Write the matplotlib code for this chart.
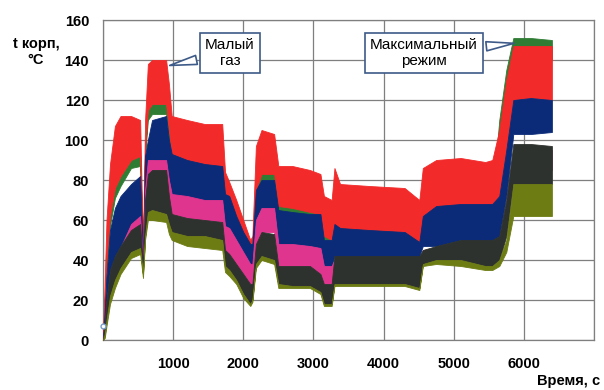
import matplotlib
matplotlib.use("Agg")
import matplotlib.pyplot as plt

plt.rcParams['font.family'] = ['Liberation Sans', 'DejaVu Sans']

# time nodes, s
t = [0, 25, 50, 100, 170, 250, 400, 530, 570, 600, 640, 700, 900, 940, 980,
     1200, 1450, 1700, 1740, 1800, 1900, 2000, 2100, 2130, 2180, 2260, 2440,
     2500, 2700, 2950, 3100, 3150, 3260, 3300, 3380, 3800, 4300, 4510, 4560,
     4750, 5100, 5450, 5550, 5650, 5750, 5850, 6100, 6400]

# band envelopes (upper / lower) of each sensor, deg C
red_hi = [0, 30, 60, 88, 107, 112, 112, 110, 45, 110, 138, 140, 140, 128, 112,
          110, 108, 108, 84, 79, 70, 60, 50, 52, 97, 105, 103,
          87, 87, 85, 83, 72, 70, 86, 78, 77, 76, 70, 86,
          90, 91, 89, 90, 105, 130, 147, 147, 147]
red_lo = [0, 20, 40, 62, 76, 82, 90, 92, 42, 95, 115, 118, 118, 105, 93,
          90, 88, 87, 73, 72, 62, 54, 48, 48, 75, 83, 83,
          67, 66, 64, 63, 52, 50, 58, 56, 55, 54, 49, 62,
          67, 68, 68, 68, 72, 95, 120, 121, 120]

green_hi = [0, 20, 40, 62, 76, 82, 90, 92, 42, 95, 115, 118, 118, 105, 94,
            91, 89, 88, 74, 73, 63, 55, 49, 49, 76, 84, 84,
            68, 67, 65, 64, 53, 51, 59, 57, 56, 55, 50, 63,
            68, 69, 69, 70, 110, 135, 151, 151, 150]
green_lo = [0, 18, 36, 57, 71, 77, 86, 87, 40, 92, 110, 113, 113, 100, 90,
            88, 86, 85, 71, 70, 60, 52, 46, 46, 72, 79, 79,
            63, 63, 62, 61, 50, 48, 56, 54, 53, 52, 47, 60,
            65, 66, 66, 66, 95, 120, 140, 140, 140]

blue_hi = [0, 15, 32, 55, 66, 72, 78, 82, 40, 92, 100, 110, 112, 100, 93,
           90, 88, 87, 73, 72, 62, 54, 48, 48, 75, 80, 80,
           65, 64, 63, 63, 50, 50, 58, 56, 55, 54, 49, 62,
           67, 68, 68, 68, 72, 95, 120, 121, 120]
blue_lo = [0, 8, 20, 35, 42, 47, 58, 62, 36, 70, 90, 90, 88, 80, 73,
           71, 70, 70, 57, 56, 50, 44, 38, 38, 60, 66, 66,
           48, 48, 47, 46, 37, 37, 42, 42, 42, 42, 42, 47,
           47, 50, 50, 50, 52, 72, 103, 103, 104]

magenta_hi = [0, 7, 18, 33, 40, 46, 58, 62, 37, 75, 90, 90, 90, 80, 73,
              72, 70, 70, 57, 56, 50, 44, 38, 38, 60, 66, 66,
              48, 48, 47, 46, 37, 37, 40, 40, 40, 40, 40, 45,
              46, 48, 48, 48, 50, 68, 95, 95, 95]
magenta_lo = [0, 4, 12, 27, 35, 42, 52, 55, 34, 65, 80, 82, 80, 70, 63,
              61, 60, 59, 45, 43, 38, 33, 28, 28, 48, 54, 54,
              37, 37, 37, 33, 28, 28, 32, 32, 32, 32, 32, 42,
              42, 43, 43, 43, 44, 56, 85, 85, 85]

black_hi = [0, 8, 20, 35, 42, 47, 55, 58, 37, 70, 83, 85, 85, 72, 63,
            61, 60, 59, 45, 43, 38, 33, 28, 28, 48, 54, 53,
            37, 37, 37, 33, 28, 28, 42, 42, 42, 42, 42, 45,
            47, 50, 50, 50, 52, 70, 98, 98, 97]
black_lo = [0, 2, 10, 22, 30, 36, 44, 46, 33, 52, 64, 65, 63, 58, 54,
            52, 52, 50, 37, 35, 30, 23, 18, 20, 38, 42, 40,
            28, 27, 27, 24, 18, 18, 28, 28, 28, 28, 26, 38,
            40, 40, 37, 37, 40, 52, 78, 78, 78]

olive_hi = [0, 3, 10, 22, 30, 36, 44, 46, 33, 52, 64, 65, 63, 58, 54,
            52, 52, 50, 37, 35, 30, 23, 18, 20, 38, 42, 40,
            28, 27, 27, 24, 18, 18, 28, 28, 28, 28, 26, 38,
            40, 40, 37, 37, 40, 50, 78, 78, 78]
olive_lo = [0, 1, 7, 18, 26, 33, 41, 43, 31, 50, 60, 60, 59, 53, 50,
            47, 46, 45, 34, 32, 28, 21, 17, 19, 36, 40, 38,
            26, 26, 26, 23, 17, 17, 27, 27, 27, 27, 25, 37,
            38, 37, 35, 35, 37, 44, 62, 62, 62]

start_t = [0]
start_v = [7]

x_ticks = [0, 1000, 2000, 3000, 4000, 5000, 6000, 7000]
x_labels = ["", "1000", "2000", "3000", "4000", "5000", "6000", ""]
y_ticks = [0, 20, 40, 60, 80, 100, 120, 140, 160]

fig = plt.figure(figsize=(6.04, 3.90), dpi=100)
ax = fig.add_axes([0.1705, 0.1282, 0.8129, 0.8205])

bands = [
    (green_lo, green_hi, "#2f7d34"),
    (red_lo, red_hi, "#f22a2a"),
    (blue_lo, blue_hi, "#0b2b78"),
    (magenta_lo, magenta_hi, "#e0358f"),
    (black_lo, black_hi, "#2e322e"),
    (olive_lo, olive_hi, "#6e7c14"),
]
for lo, hi, c in bands:
    ax.fill_between(t, lo, hi, color=c, lw=0.6, edgecolor=c, zorder=3)

ax.plot(start_t, start_v, 'o', ms=3.5, mfc='white', mec='#7a9cc8', zorder=4,
        clip_on=False)

ax.set_xlim(0, 7000)
ax.set_ylim(0, 160)
ax.set_xticks(x_ticks)
ax.set_xticklabels(x_labels)
ax.set_yticks(y_ticks)
ax.grid(True, color='#7f7f7f', lw=0.9)
ax.set_axisbelow(True)
for s in ax.spines.values():
    s.set_color('#7f7f7f')
    s.set_linewidth(0.9)
ax.tick_params(length=0, labelsize=10.5, pad=10)
ax.tick_params(axis='x', pad=12)
for lab in ax.get_xticklabels() + ax.get_yticklabels():
    lab.set_fontweight('bold')

fig.text(36 / 604, 1 - 52 / 390, "t корп,\n°С", ha='center', va='center',
         fontsize=10.5, fontweight='bold', linespacing=1.25)
fig.text(600 / 604, 1 - 381 / 390, "Время, с", ha='right', va='center',
         fontsize=10.5, fontweight='bold')

box = dict(boxstyle='square,pad=0.35', fc='white', ec='#3d5a88', lw=1.2)
arrow = dict(arrowstyle='wedge,tail_width=0.6,shrink_factor=0.5',
             fc='white', ec='#3d5a88', lw=1.2)
ax.annotate("Малый\nгаз", xy=(912, 137), xytext=(1810, 143.5),
            ha='center', va='center', fontsize=11, bbox=box,
            arrowprops=arrow, zorder=6, linespacing=1.15)
ax.annotate("Максимальный\nрежим", xy=(5900, 148.5), xytext=(4573, 143.5),
            ha='center', va='center', fontsize=11, bbox=box,
            arrowprops=arrow, zorder=6, linespacing=1.15)

fig.savefig("out.png", dpi=100)
